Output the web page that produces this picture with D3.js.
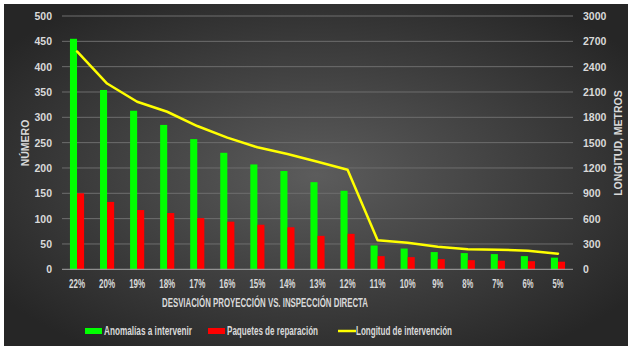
<!DOCTYPE html>
<html><head><meta charset="utf-8">
<script src="https://cdn.jsdelivr.net/npm/d3@7"></script>
<style>html,body{margin:0;padding:0;background:#fff;}svg{display:block;}</style>
</head><body>
<svg id="c" width="628" height="346"></svg>
<script>
const categories = ["22%","20%","19%","18%","17%","16%","15%","14%","13%","12%","11%","10%","9%","8%","7%","6%","5%"];
const anomalias = [455,354,313,285,257,230,207,194,172,155,47,41,34,32,30,26,23];
const paquetes = [150,133,117,111,101,94,88,83,66,70,26,24,20,18,17,16,15];
const longitud = [2580,2200,1985,1866,1697,1559,1445,1365,1274,1180,343,315,268,237,232,220,185];
const leftTicks = [0,50,100,150,200,250,300,350,400,450,500];
const rightTicks = [0,300,600,900,1200,1500,1800,2100,2400,2700,3000];
const seriesNames = ["Anomalías a intervenir","Paquetes de reparación","Longitud de intervención"];
const colors = ["#00ff00","#ff0000","#ffff00"];

const svg = d3.select("#c");
const defs = svg.append("defs");
const grad = defs.append("radialGradient").attr("id","bg").attr("cx","50%").attr("cy","50%").attr("r","62%");
grad.append("stop").attr("offset","0%").attr("stop-color","#5c5c5c");
grad.append("stop").attr("offset","100%").attr("stop-color","#262626");
svg.append("rect").attr("x",4).attr("y",4).attr("width",624).attr("height",342).attr("fill","url(#bg)");

const L = 62, R = 573, T = 16, B = 269.3;
const x0 = d3.scaleBand().domain(categories).range([L,R]).paddingInner(0.53).paddingOuter(0.265);
const x1 = d3.scaleBand().domain([0,1]).range([0,x0.bandwidth()]);
const yL = d3.scaleLinear().domain([0,500]).range([B,T]);
const yR = d3.scaleLinear().domain([0,3000]).range([B,T]);

const tickFont = "'Liberation Sans', Arial, sans-serif";
const txt = "#d9d9d9";

// gridlines
svg.append("g").selectAll("line").data(leftTicks.filter(d=>d>0)).join("line")
  .attr("x1",L).attr("x2",R).attr("y1",d=>yL(d)).attr("y2",d=>yL(d))
  .attr("stroke","#6e6e6e").attr("stroke-width",1);

// left axis
const gl = svg.append("g").attr("transform",`translate(${L},0)`)
  .call(d3.axisLeft(yL).tickValues(leftTicks).tickSize(0).tickPadding(10).tickFormat(d3.format("d")));
gl.select(".domain").remove();
gl.selectAll("text").attr("fill",txt).attr("font-size","10.5px").attr("font-weight","bold").attr("font-family",tickFont);

// right axis
const gr = svg.append("g").attr("transform",`translate(${R},0)`)
  .call(d3.axisRight(yR).tickValues(rightTicks).tickSize(0).tickPadding(10).tickFormat(d3.format("d")));
gr.select(".domain").remove();
gr.selectAll("text").attr("fill",txt).attr("font-size","10.5px").attr("font-weight","bold").attr("font-family",tickFont);

// bars
const g = svg.append("g");
categories.forEach((c,i)=>{
  [anomalias[i],paquetes[i]].forEach((v,j)=>{
    g.append("rect").attr("x",x0(c)+x1(j)).attr("width",x1.bandwidth())
      .attr("y",yL(v)).attr("height",yL(0)-yL(v)).attr("fill",colors[j]);
  });
});

// baseline
svg.append("line").attr("x1",L).attr("x2",R).attr("y1",B).attr("y2",B).attr("stroke","#a6a6a6").attr("stroke-width",1);

// x axis labels
const gx = svg.append("g").attr("transform",`translate(0,${B})`)
  .call(d3.axisBottom(x0).tickSize(0).tickPadding(10));
gx.select(".domain").remove();
gx.selectAll("text").attr("fill",txt).attr("font-size","12px").attr("font-weight","bold").attr("font-family",tickFont)
  .attr("textLength",d=>d.length===3?16:11).attr("lengthAdjust","spacingAndGlyphs");

// line
const line = d3.line().x((d,i)=>x0(categories[i])+x0.bandwidth()/2).y(d=>yR(d));
svg.append("path").datum(longitud).attr("d",line).attr("fill","none")
  .attr("stroke",colors[2]).attr("stroke-width",2.5).attr("stroke-linejoin","round").attr("stroke-linecap","round");

// axis titles
svg.append("text").attr("x",162).attr("y",306.5)
  .attr("fill",txt).attr("font-size","12.5px").attr("font-weight","bold").attr("font-family",tickFont)
  .attr("textLength",206).attr("lengthAdjust","spacingAndGlyphs")
  .text("DESVIACIÓN PROYECCIÓN VS. INSPECCIÓN DIRECTA");
svg.append("text").attr("transform","translate(29,143) rotate(-90)").attr("text-anchor","middle")
  .attr("fill",txt).attr("font-size","10.5px").attr("font-weight","bold").attr("font-family",tickFont)
  .text("NÚMERO");
svg.append("text").attr("transform","translate(622,143) rotate(-90)").attr("text-anchor","middle")
  .attr("fill",txt).attr("font-size","10.5px").attr("font-weight","bold").attr("font-family",tickFont)
  .text("LONGITUD, METROS");

// legend
const legX = [85,208,338];
const legLen = [88,91,96];
const lg = svg.append("g");
seriesNames.forEach((n,i)=>{
  if(i<2){
    lg.append("rect").attr("x",legX[i]).attr("y",328).attr("width",17).attr("height",6).attr("fill",colors[i]);
  } else {
    lg.append("line").attr("x1",legX[i]).attr("x2",legX[i]+18).attr("y1",331).attr("y2",331).attr("stroke",colors[i]).attr("stroke-width",2.5);
  }
  lg.append("text").attr("x",legX[i]+(i===2?18:19)).attr("y",335).attr("fill",txt)
    .attr("font-size","12px").attr("font-weight","bold").attr("font-family",tickFont)
    .attr("textLength",legLen[i]).attr("lengthAdjust","spacingAndGlyphs").text(n);
});
</script>
</body></html>
